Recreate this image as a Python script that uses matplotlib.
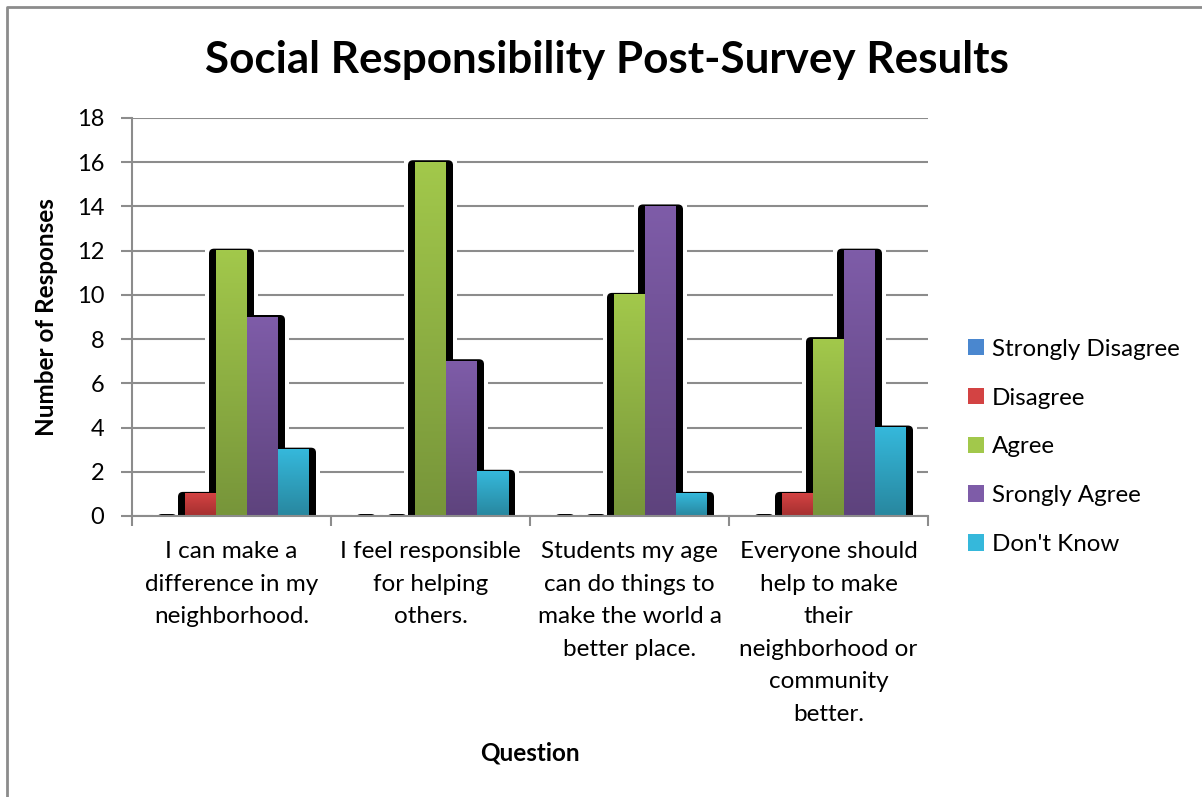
import numpy as np
import matplotlib
matplotlib.use("Agg")
import matplotlib.pyplot as plt
from matplotlib.patches import FancyBboxPatch, Patch
from matplotlib.colors import to_rgb
from matplotlib.lines import Line2D

plt.rcParams['font.family'] = ['Lato', 'DejaVu Sans']

questions = [
    "I can make a\ndifference in my\nneighborhood.",
    "I feel responsible\nfor helping\nothers.",
    "Students my age\ncan do things to\nmake the world a\nbetter place.",
    "Everyone should\nhelp to make\ntheir\nneighborhood or\ncommunity\nbetter.",
]
series = ["Strongly Disagree", "Disagree", "Agree", "Srongly Agree", "Don't Know"]
strongly_disagree = [0, 0, 0, 0]
disagree = [1, 0, 0, 1]
agree = [12, 16, 10, 8]
strongly_agree = [9, 7, 14, 12]
dont_know = [3, 2, 1, 4]
values = [strongly_disagree, disagree, agree, strongly_agree, dont_know]

# (top, bottom) gradient colours
colors = [("#4A87CF", "#3466A6"), ("#D34343", "#A52F2F"), ("#A2C84B", "#77953A"),
          ("#7E5CA8", "#5E437D"), ("#35B8DB", "#28879F")]

W, H = 1202, 797
fig = plt.figure(figsize=(W / 100, H / 100), dpi=100)
ax = fig.add_axes([132 / W, 1 - 516 / H, 796 / W, 398 / H])
ax.set_xlim(0, 4)
ax.set_ylim(0, 18)

px_x = 4 / 796      # data units per pixel
px_y = 18 / 398
bw = 31 * px_x

for i in range(5):
    top, bot = colors[i]
    grad = np.linspace(to_rgb(top), to_rgb(bot), 64).reshape(64, 1, 3)
    for g in range(4):
        h = values[i][g]
        x0 = g + 0.5 + (i - 2) * bw - bw / 2
        # shadow + white halo behind bar
        if h == 0:
            sx0, sx1, sh = x0 + 3 * px_x, x0 + bw - 8 * px_x, 2 * px_y
        else:
            sx0, sx1, sh = x0 - 7 * px_x, x0 + bw + 7 * px_x, h + 2 * px_y
        r = 5 * px_x
        for pad, col, z in [(4, "white", 1), (0, "black", 2)]:
            ax.add_patch(FancyBboxPatch(
                (sx0 - pad * px_x, -1), sx1 - sx0 + 2 * pad * px_x, sh + 1 + pad * px_y,
                boxstyle=f"round,pad=0,rounding_size={r}",
                mutation_aspect=px_y / px_x, facecolor=col, edgecolor="none", zorder=z))
        if h > 0:
            ax.imshow(grad, extent=(x0, x0 + bw, 0, h), aspect="auto",
                      interpolation="bilinear", zorder=3)

ax.set_xlim(0, 4)
ax.set_ylim(0, 18)
ax.set_yticks(range(0, 19, 2))
ax.yaxis.grid(True, color="#8c8c8c", linewidth=1.5, zorder=0)
ax.set_axisbelow(True)
ax.set_xticks([0, 1, 2, 3, 4])
ax.set_xticklabels([])
ax.set_xticks([0.5, 1.5, 2.5, 3.5], minor=True)
ax.set_xticklabels(questions, minor=True, fontsize=17.5, linespacing=1.68, va="top")
ax.tick_params(axis="x", which="minor", length=0, pad=18)
ax.tick_params(axis="x", which="major", length=7, width=1.5, color="#8c8c8c")
ax.tick_params(axis="y", length=8, width=1.5, color="#8c8c8c", labelsize=17, pad=12)
for s in ["top", "right"]:
    ax.spines[s].set_visible(False)
for s in ["left", "bottom"]:
    ax.spines[s].set_color("#8c8c8c")
    ax.spines[s].set_linewidth(1.5)
    ax.spines[s].set_zorder(4)

ax.set_ylabel("Number of Responses", fontsize=17.5, fontweight="bold")
ax.yaxis.set_label_coords((58 - 132) / 796, 0.5)
fig.text(530 / W, 1 - 753 / H, "Question", fontsize=17.5, fontweight="bold",
         ha="center", va="center")
fig.text(607 / W, 1 - 60 / H, "Social Responsibility Post-Survey Results",
         fontsize=31.7, fontweight="bold", ha="center", va="center")

handles = [Patch(facecolor=c[0], edgecolor="none") for c in colors]
fig.legend(handles, series, loc="upper left", bbox_to_anchor=(946 / W, 1 - 317 / H),
           frameon=False, fontsize=17.4, handlelength=0.66, handleheight=0.66,
           handletextpad=0.35, labelspacing=1.15)

# chart frame (left and top edges)
fig.add_artist(Line2D([7 / W, 7 / W, 1], [0, 1 - 7 / H, 1 - 7 / H],
                      transform=fig.transFigure, color="#8c8c8c", linewidth=2))

fig.savefig("out.png", dpi=100)
